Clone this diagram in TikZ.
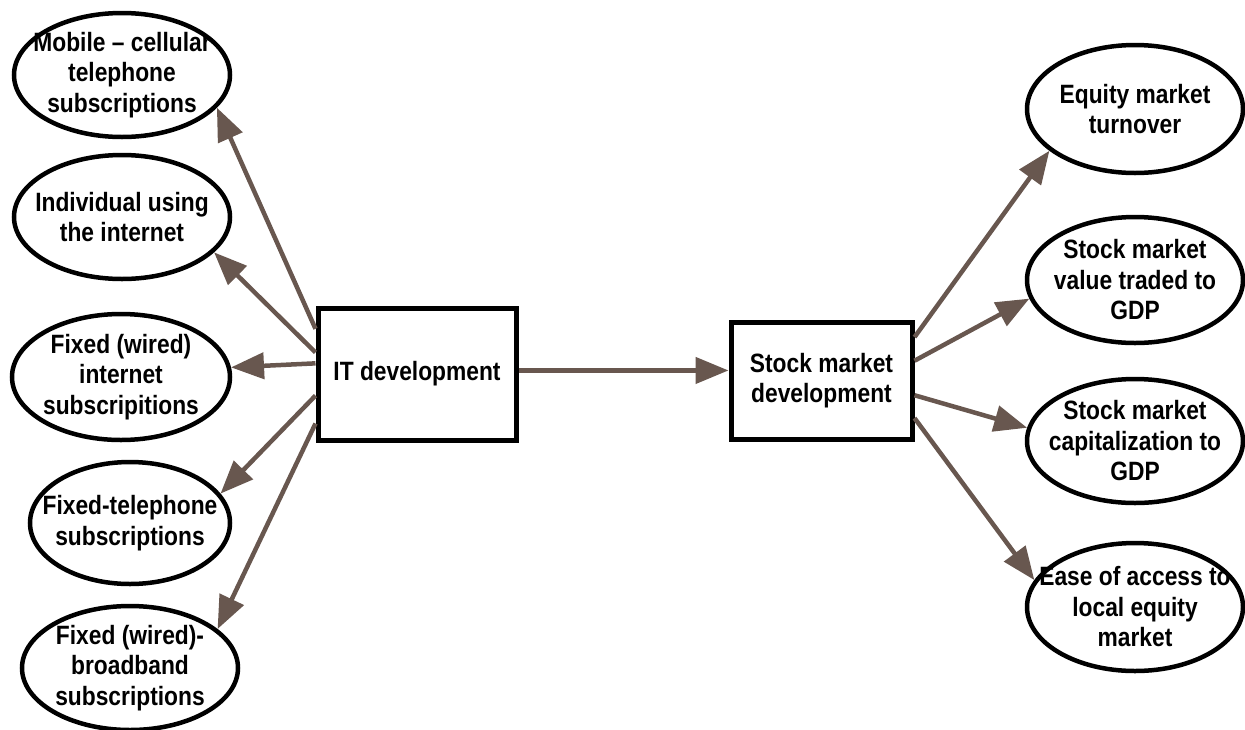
\documentclass[tikz,border=0pt]{standalone}
\usepackage{fontspec}
\setmainfont{Liberation Sans}[FakeStretch=0.86]
\usepackage{tikz}
\usetikzlibrary{arrows.meta, shapes.geometric, calc}

\definecolor{linkbrown}{RGB}{104,87,79}

\begin{document}
\begin{tikzpicture}[x=1pt, y=-1pt,
    font=\fontsize{26.5}{30.5}\selectfont\bfseries,
    oval/.style={draw, ellipse, line width=4.5pt, inner sep=0pt,
        minimum width=216pt, minimum height=124pt},
    box/.style={draw, rectangle, line width=5pt, align=center},
    link/.style={draw=linkbrown, line width=4.5pt, -{Triangle[length=33pt, width=26pt]}}]
    \useasboundingbox (0,0) rectangle (1245,729);
    % IT indicators
    \node[oval, label={[align=center]center:Mobile -- cellular\\telephone\\subscriptions}] (mob) at (122,75) {};
    \node[oval, label={[align=center]center:Individual using\\the internet}] (ind) at (122,217) {};
    \node[oval, minimum width=218pt, minimum height=126pt,
        label={[align=center]center:Fixed (wired)\\internet\\subscripitions}] (fwi) at (121,377) {};
    \node[oval, minimum width=200pt, minimum height=122pt,
        label={[align=center]center:Fixed-telephone\\subscriptions}] (ftel) at (130,523) {};
    \node[oval, label={[align=center]center:Fixed (wired)-\\broadband\\subscriptions}] (fbb) at (130,668) {};
    % the two constructs
    \node[box, minimum width=198pt, minimum height=132pt] (it) at (417,374) {IT development};
    \node[box, minimum width=181pt, minimum height=117pt] (sm) at (821.5,380.5) {Stock market\\development};
    % stock market indicators
    \node[oval, minimum height=128pt, label={[align=center]center:Equity market\\turnover}] (eq) at (1135,109) {};
    \node[oval, minimum height=126pt, label={[align=center]center:Stock market\\value traded to\\GDP}] (svt) at (1135,280) {};
    \node[oval, minimum height=124pt, label={[align=center]center:Stock market\\capitalization to\\GDP}] (cap) at (1135,441) {};
    \node[oval, minimum height=128pt, label={[align=center]center:Ease of access to\\local equity\\market}] (ease) at (1135,607) {};
    % arrows
    \draw[link] (it.156) -- (mob.341);
    \draw[link] (it.168) -- (ind.339);
    \draw[link] (it.174) -- (fwi.5);
    \draw[link] (it.192) -- (ftel.18);
    \draw[link] (it.206) -- (fbb.24);
    \draw[link] (it.2) -- (it.2 -| sm.west);
    \draw[link] (sm.25) -- (eq.206);
    \draw[link] (sm.12) -- (svt.190);
    \draw[link] (sm.-9) -- (cap.173);
    \draw[link] (sm.-22) -- (ease.165);
\end{tikzpicture}
\end{document}
